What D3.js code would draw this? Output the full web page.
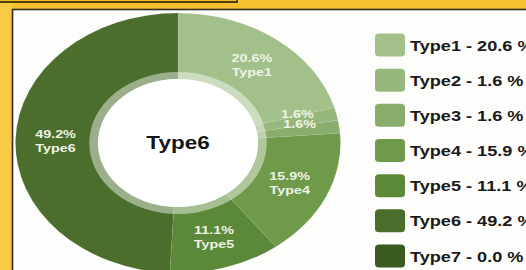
<!DOCTYPE html>
<html><head><meta charset="utf-8">
<script src="https://cdn.jsdelivr.net/npm/d3@7"></script>
<style>html,body{margin:0;padding:0;background:#f6c12c;overflow:hidden}svg{display:block}</style>
</head><body>
<script>
// ---- data ----
const categories = ["Type1", "Type2", "Type3", "Type4", "Type5", "Type6", "Type7"];
const values = [20.6, 1.6, 1.6, 15.9, 11.1, 49.2, 0.0];
const centerLabel = "Type6";

// ---- styles ----
const palette = ["#a4c08a", "#97b77c", "#88ad6c", "#6e9a4a", "#5c8939", "#4c6e2c", "#3b5a20"];
const W = 526, H = 270;
const SX = 1.25; // horizontal stretch of the photographed chart
const cx = 178 / SX, cy = 143;
const rOuter = 130, rInner = 64, rRing = 71, rLabel = 98;
const font = "'Liberation Sans', Arial, Helvetica, sans-serif";

const svg = d3.select("body").append("svg").attr("width", W).attr("height", H);

// background + frame
svg.append("rect").attr("width", W).attr("height", H).attr("fill", "#f6c12c");
svg.append("rect").attr("x", 0).attr("y", 0).attr("width", 12).attr("height", H).attr("fill", "#f8cb45");
svg.append("rect").attr("x", -3).attr("y", -6).attr("width", 240).attr("height", 8)
  .attr("fill", "#f3bd22").attr("stroke", "#4d3f12").attr("stroke-width", 2);
svg.append("rect").attr("x", 12.5).attr("y", 9.5).attr("width", W).attr("height", H)
  .attr("fill", "#fdfdfb").attr("stroke", "#2f2d22").attr("stroke-width", 1.6);

const g = svg.append("g").attr("transform", `scale(${SX},1)`);
const chart = g.append("g").attr("transform", `translate(${cx},${cy})`);

const color = d3.scaleOrdinal().domain(categories).range(palette);
const pie = d3.pie().sort(null).value(d => d.value);
const data = categories.map((c, i) => ({ name: c, value: values[i] }));
const arcs = pie(data);
const arc = d3.arc().innerRadius(rInner).outerRadius(rOuter);
const labelArc = d3.arc().innerRadius(rLabel).outerRadius(rLabel);

chart.selectAll("path.slice").data(arcs.filter(d => d.data.value > 0)).join("path")
  .attr("class", "slice")
  .attr("d", arc)
  .attr("fill", d => color(d.data.name))
  .attr("stroke", "rgba(255,255,255,0.12)").attr("stroke-width", 0.6);

// translucent ring around the hole
chart.append("path")
  .attr("d", d3.arc().innerRadius(rInner).outerRadius(rRing).startAngle(0).endAngle(2 * Math.PI)())
  .attr("fill", "rgba(255,255,255,0.45)");
chart.append("circle").attr("r", rInner).attr("fill", "#ffffff");

// slice labels
const fmt = d3.format(".1f");
const lab = chart.selectAll("g.lab").data(arcs.filter(d => d.data.value > 0)).join("g")
  .attr("class", "lab")
  .attr("transform", d => `translate(${labelArc.centroid(d)})`)
  .attr("font-family", font).attr("font-weight", "bold").attr("font-size", 11.5)
  .attr("fill", "#eef3e6").attr("text-anchor", "middle");
lab.append("text").attr("y", -3).text(d => fmt(d.data.value) + "%");
lab.filter(d => d.data.value >= 2).append("text").attr("y", 11).text(d => d.data.name);

chart.append("text").attr("y", 6).attr("text-anchor", "middle")
  .attr("font-family", font).attr("font-weight", "bold").attr("font-size", 18)
  .attr("fill", "#141414").text(centerLabel);

// legend
const ly = d3.scalePoint().domain(categories).range([45, 256]);
const leg = g.append("g").selectAll("g").data(data).join("g")
  .attr("transform", d => `translate(300,${ly(d.name)})`);
leg.append("rect").attr("x", 0).attr("y", -11.5).attr("width", 24).attr("height", 23)
  .attr("rx", 3.5).attr("fill", d => color(d.name));
leg.append("text").attr("x", 28).attr("y", 5.5)
  .attr("font-family", font).attr("font-weight", "bold").attr("font-size", 14.5)
  .attr("fill", "#1a1a1a").text(d => `${d.name} - ${fmt(d.value)} %`);
</script>
</body></html>
